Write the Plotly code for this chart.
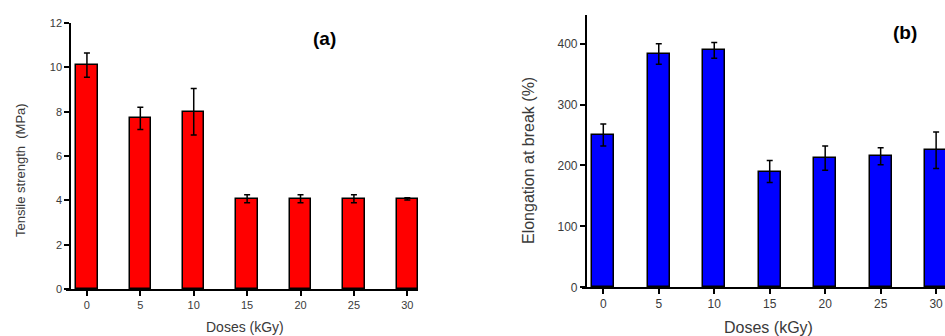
import plotly.graph_objects as go

doses = [0, 5, 10, 15, 20, 25, 30]
tensile = [10.1, 7.7, 8.0, 4.07, 4.07, 4.07, 4.07]
tensile_err = [0.55, 0.5, 1.05, 0.18, 0.18, 0.18, 0.05]
elong = [250, 383, 389, 190, 212, 215, 225]
elong_err = [18, 17, 13, 18, 20, 14, 30]

W, H = 945, 336
FONT = "Liberation Sans, Arial, sans-serif"
TXT = "#3a3a3a"

def px(x):
    return x / W

def py(y):
    return 1 - y / H

fig = go.Figure()
fig.add_trace(go.Bar(
    x=doses, y=tensile, width=2,
    marker=dict(color="#ff0000", line=dict(color="black", width=1.5)),
    error_y=dict(type="data", array=tensile_err, color="black", thickness=1.5, width=3),
    xaxis="x", yaxis="y", showlegend=False, cliponaxis=False))
fig.add_trace(go.Bar(
    x=doses, y=elong, width=2,
    marker=dict(color="#0000ff", line=dict(color="black", width=1.5)),
    error_y=dict(type="data", array=elong_err, color="black", thickness=1.5, width=3),
    xaxis="x2", yaxis="y2", showlegend=False, cliponaxis=False))

axcommon = dict(showgrid=False, zeroline=False, showline=True, linecolor="black",
                linewidth=1.5, ticks="outside", ticklen=5, tickcolor="black", tickwidth=1.5,
                automargin=False)

def ann(text, x, y, size, color=TXT, angle=0):
    return dict(text=text, x=px(x), y=py(y), xref="paper", yref="paper",
                xanchor="center", yanchor="middle", textangle=angle,
                showarrow=False, font=dict(size=size, color=color))

fig.update_layout(
    width=W, height=H,
    margin=dict(l=0, r=0, t=0, b=0, autoexpand=False),
    plot_bgcolor="white", paper_bgcolor="white",
    font=dict(family=FONT, color=TXT),
    bargap=0,
    xaxis=dict(domain=[px(66), px(418)], range=[-1.96, 31.0], tickvals=doses,
               anchor="y", tickfont=dict(size=11, color=TXT), **axcommon),
    yaxis=dict(domain=[py(289), py(23)], range=[0, 12], dtick=2,
               anchor="free", position=px(70), tickfont=dict(size=11, color=TXT), **axcommon),
    xaxis2=dict(domain=[px(582), 1.0], range=[-1.92, 30.8], tickvals=doses,
                anchor="y2", tickfont=dict(size=12, color=TXT), **axcommon),
    yaxis2=dict(domain=[py(287.3), py(15)], range=[0, 447], tickvals=[0, 100, 200, 300, 400],
                anchor="free", position=px(585.7), tickfont=dict(size=12, color=TXT), **axcommon),
    annotations=[
        ann("Tensile strength  (MPa)", 20, 170, 13, angle=-90),
        ann("Doses (kGy)", 245, 327, 14),
        ann("<b>(a)</b>", 324, 38, 19, color="black"),
        ann("Elongation at break (%)", 528, 161, 16, angle=-90),
        ann("Doses (kGy)", 768, 327, 16),
        ann("<b>(b)</b>", 905, 33, 19, color="black"),
    ],
)

fig.write_html("out.html", config={"displayModeBar": False},
               post_script="document.body.style.margin='0';")
